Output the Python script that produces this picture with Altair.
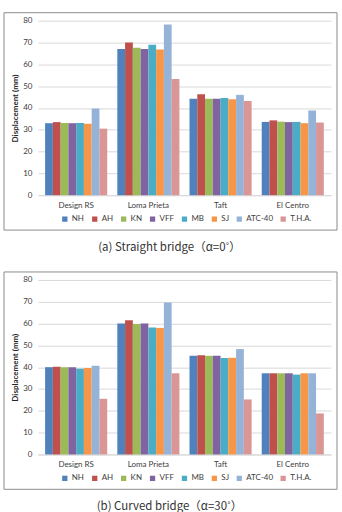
import altair as alt
import pandas as pd

# Ground motions (x categories) and analysis methods (bar series)
events = ["Design RS", "Loma Prieta", "Taft", "El Centro"]
methods = ["NH", "AH", "KN", "VFF", "MB", "SJ", "ATC-40", "T.H.A."]
colors = ["#4F81BD", "#C0504D", "#9BBB59", "#8064A2", "#4BACC6", "#F79646", "#95B3D7", "#D99694"]

# Displacement (mm) per method, one list per ground motion
straight = {
    "Design RS":   [33.0, 33.5, 33.1, 33.0, 33.1, 32.8, 39.8, 30.5],
    "Loma Prieta": [67.0, 70.0, 67.6, 67.0, 69.0, 66.8, 78.3, 53.3],
    "Taft":        [44.2, 46.3, 44.2, 44.2, 44.5, 44.0, 46.0, 43.2],
    "El Centro":   [33.6, 34.3, 33.7, 33.5, 33.6, 33.0, 38.8, 33.3],
}
curved = {
    "Design RS":   [40.0, 40.2, 40.0, 40.0, 39.3, 39.6, 40.7, 25.5],
    "Loma Prieta": [60.0, 61.5, 59.8, 60.0, 58.2, 58.0, 69.6, 37.2],
    "Taft":        [45.2, 45.5, 45.2, 45.2, 44.2, 44.3, 48.3, 25.2],
    "El Centro":   [37.2, 37.2, 37.2, 37.2, 36.6, 37.2, 37.2, 18.8],
}

captions = ["(a) Straight bridge（α=0˚）", "(b) Curved bridge（α=30˚）"]

FONT = "Lato"
W, H = 294, 175


def to_frame(table):
    rows = []
    for ev in events:
        for m, v in zip(methods, table[ev]):
            rows.append({"event": ev, "method": m, "value": v})
    return pd.DataFrame(rows)


def panel(table, caption):
    df = to_frame(table)

    bars = alt.Chart(df).mark_bar().encode(
        x=alt.X("event:N", sort=events,
                scale=alt.Scale(paddingInner=0.14, paddingOuter=0.1),
                axis=alt.Axis(title=None, labelAngle=0, ticks=False,
                              domainColor="#d9d9d9", labelPadding=6)),
        xOffset=alt.XOffset("method:N", sort=methods,
                            scale=alt.Scale(paddingInner=0, paddingOuter=0)),
        y=alt.Y("value:Q",
                scale=alt.Scale(domain=[0, 80], nice=False),
                axis=alt.Axis(title="Displacement (mm)", values=list(range(0, 81, 10)),
                              ticks=False, domain=False, gridColor="#d9d9d9",
                              labelPadding=6, titlePadding=3,
                              titleFontWeight="bold")),
        color=alt.Color("method:N", sort=methods,
                        scale=alt.Scale(domain=methods, range=colors),
                        legend=alt.Legend(title=None, orient="none", direction="horizontal",
                                          columns=8, legendX=23, legendY=195,
                                          symbolType="square", symbolSize=28,
                                          symbolStrokeWidth=0, labelFontSize=8,
                                          labelFont=FONT, labelColor="#404040",
                                          labelOffset=3, columnPadding=6)),
    )

    frame = alt.Chart(alt.Data(values=[{}])).mark_rect(
        fill=None, stroke="#8c8c8c", strokeWidth=1
    ).encode(
        x=alt.value(-34), x2=alt.value(300),
        y=alt.value(-8), y2=alt.value(210),
    )

    label = alt.Chart(alt.Data(values=[{}])).mark_text(
        font="Noto Sans CJK KR", fontSize=11.5, color="#333333", baseline="middle"
    ).encode(
        x=alt.value(132), y=alt.value(228), text=alt.value(caption)
    )

    return alt.layer(frame, bars, label).properties(width=W, height=H)


chart = alt.vconcat(
    panel(straight, captions[0]),
    panel(curved, captions[1]),
    spacing=85,
    bounds="flush",
).resolve_scale(color="independent").resolve_legend(color="independent").properties(
    padding={"left": 3, "top": 11, "right": 4, "bottom": 2},
    background="white",
).configure_view(
    stroke=None
).configure_axis(
    labelFont=FONT, titleFont=FONT, labelFontSize=8, titleFontSize=8,
    labelColor="#404040", titleColor="#262626",
)

chart.save("out.html", embed_options={"renderer": "svg", "actions": False})
